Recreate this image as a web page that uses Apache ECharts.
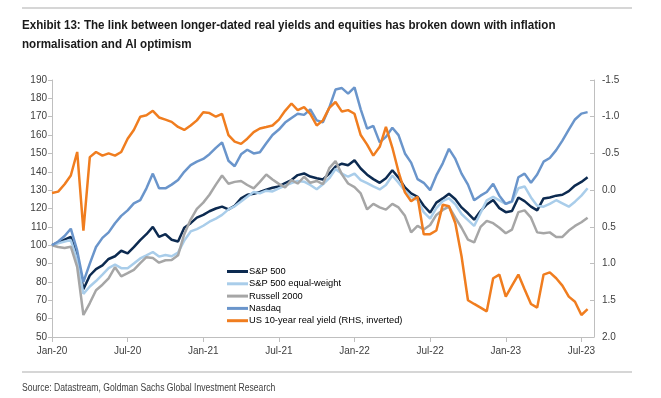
<!DOCTYPE html>
<html>
<head>
<meta charset="utf-8">
<script src="https://cdn.jsdelivr.net/npm/echarts@6/dist/echarts.min.js"></script>
<style>
  html, body { margin: 0; padding: 0; background: #fff; }
  #main { width: 661px; height: 398px; }
</style>
</head>
<body>
<div id="main"></div>
<script>
var chartDom = document.getElementById('main');
var myChart = echarts.init(chartDom);

// semi-monthly observation dates (1st and 16th), Jan 2020 .. mid Jul 2023
var dates = [];
for (var y = 2020; y <= 2023; y++) {
    for (var m = 1; m <= 12; m++) {
        if (y === 2023 && m > 7) break;
        var mm = (m < 10 ? '0' : '') + m;
        dates.push(y + '-' + mm + '-01');
        dates.push(y + '-' + mm + '-16');
    }
}

var sp500 = [
    100, 101.5, 103, 104.5, 94, 76, 83.5, 87, 89, 92.5,
    94, 97, 95.6, 99, 102.8, 106, 110, 104.5, 106, 103,
    102, 109.5, 112, 115, 116.5, 118.5, 120, 121, 119.5, 121.5,
    125.5, 127.5, 128, 129, 130.3, 131.3, 132, 133.8, 135.5, 138.2,
    139.1, 137.4, 136.5, 135.8, 139, 142.8, 144.4, 143.6, 146.3, 141.8,
    138.4, 136, 134, 136.5, 140.8, 136.8, 131.5, 128.2, 126.4, 121.5,
    117.8, 123.2, 125.5, 128, 125, 120.6, 117.4, 113.9, 118.6, 122.2,
    124.6, 120.2, 118, 118.6, 126, 124, 121, 119, 125.5, 126,
    127, 127.5, 129.5, 132.5, 134.5, 137
];

var sp500EqualWeight = [
    100, 101, 102, 102.8, 92, 73.5, 77.5, 80.5, 84, 87.5,
    89.5, 87.5, 87.5, 90, 92.8, 94.5, 96.3, 93.8, 94.7, 94,
    96, 102.5, 107.5, 108.8, 110.6, 112.8, 114.5, 116.5, 119.5, 121.2,
    123.8, 126.4, 129, 128.3, 129.7, 129.3, 131, 132.5, 133.9, 135,
    134.6, 132.8, 130.5, 133.2, 136.5, 141.5, 139, 137.3, 139, 135.5,
    133.8, 132, 130.4, 132.8, 138, 134, 129.6, 126.3, 124.6, 118,
    114.5, 120.2, 124, 125.6, 122.3, 117, 113.7, 110.5, 117.6, 124.4,
    126.3, 124.4, 122.5, 123.6, 131, 132, 126, 121.5, 121, 122.5,
    124.5, 122.8, 121, 123.7, 127, 131
];

var russell2000 = [
    100, 99, 98.5, 99.2, 88, 62, 68.5, 75.5, 78.5, 82,
    88, 83, 84.8, 86.6, 90.2, 93.5, 93, 90.5, 91.8, 92,
    94.5, 106, 114, 119.8, 123.2, 127.5, 133, 138, 133.5, 134.5,
    135, 132.8, 131, 134.5, 138.5, 135.8, 133.4, 131.5, 135.5, 133.6,
    137.3, 134, 135, 133.2, 142, 145.8, 138.6, 133.6, 131.6, 128.2,
    119.5, 122.5, 120.6, 119.4, 122.5, 120.6, 116, 107, 110.5, 108.6,
    111, 116.5, 119.2, 121, 115, 109.5, 103, 101.5, 110, 113.3,
    112, 109.5, 106.5, 108.5, 118, 119, 115, 107, 106.5, 107,
    104.5, 104.5, 108, 110.5, 112.5, 115
];

var nasdaq = [
    100, 102, 105, 109, 97, 80, 90, 99, 104, 107,
    112, 116, 119, 122.8, 124.6, 131, 139, 131, 131, 133,
    135.5, 140, 143.6, 145.5, 147, 149.6, 153, 156, 146, 143,
    149.5, 152, 150, 150.6, 155.5, 160, 163, 166.8, 169.3, 171.6,
    171, 174, 168, 167, 175, 184.8, 185.6, 182.6, 186, 174,
    163.5, 165, 156, 159, 164, 160, 150, 145, 136, 134,
    130, 138, 144.6, 152.5, 147, 139, 133, 124.5, 127, 129,
    133.5, 127, 122.5, 124, 137, 139, 134, 138.5, 145.5, 147.5,
    151.8, 157, 163, 168.5, 171.7, 172.5
];

// US 10-year real yield, %, plotted on the inverted right axis
var realYield = [
    0.04, 0.02, -0.08, -0.2, -0.52, 0.55, -0.45, -0.52, -0.47, -0.5,
    -0.47, -0.52, -0.7, -0.82, -1.0, -1.02, -1.08, -0.99, -0.96, -0.93,
    -0.86, -0.82, -0.88, -0.95, -1.06, -1.05, -1.0, -1.04, -0.75, -0.66,
    -0.63, -0.7, -0.79, -0.84, -0.86, -0.88, -0.96, -1.08, -1.18, -1.09,
    -1.13, -1.04, -0.88, -0.95, -1.12, -1.2, -1.07, -1.09, -1.04, -0.75,
    -0.62, -0.47, -0.59, -0.86, -0.58, -0.25, 0.03, 0.15, 0.09, 0.6,
    0.6, 0.55, 0.2, 0.22, 0.45, 0.9, 1.5, 1.55, 1.6, 1.65,
    1.2, 1.15, 1.45, 1.3, 1.15, 1.35, 1.55, 1.6, 1.15, 1.12,
    1.2, 1.3, 1.45, 1.52, 1.7, 1.62
];

var monthNames = ['Jan', 'Feb', 'Mar', 'Apr', 'May', 'Jun', 'Jul', 'Aug', 'Sep', 'Oct', 'Nov', 'Dec'];

// months since Jan 2020
function toMonth(d) {
    var p = d.split('-');
    return (+p[0] - 2020) * 12 + (+p[1] - 1) + (+p[2] - 1) / 30.5;
}

function pairs(values) {
    return dates.map(function (d, i) { return [toMonth(d), values[i]]; });
}

var axisGray = '#bfbfbf';
var labelColor = '#404040';
var sans = "'Liberation Sans', Arial, sans-serif";

function line(name, color, values, yAxisIndex) {
    return {
        name: name,
        type: 'line',
        yAxisIndex: yAxisIndex || 0,
        data: pairs(values),
        showSymbol: false,
        symbol: 'none',
        lineStyle: { color: color, width: 2.5 },
        itemStyle: { color: color }
    };
}

// condensed look for the title and source: regular font squeezed horizontally
function narrowText(text, x, y, size, weight, color, squeeze) {
    return {
        type: 'text',
        x: x,
        y: y,
        scaleX: squeeze,
        style: {
            text: text,
            fontFamily: sans,
            fontSize: size,
            fontWeight: weight,
            fill: color,
            verticalAlign: 'middle'
        }
    };
}

var option = {
    animation: false,
    backgroundColor: '#fff',
    graphic: [
        { type: 'line', shape: { x1: 22, y1: 8, x2: 632, y2: 8 }, style: { stroke: '#c8c8c8', lineWidth: 1.5 } },
        narrowText('Exhibit 13: The link between longer-dated real yields and equities has broken down with inflation', 22, 25, 13.5, 'bold', '#1a1a1a', 0.86),
        narrowText('normalisation and AI optimism', 22, 44, 13.5, 'bold', '#1a1a1a', 0.86),
        { type: 'line', shape: { x1: 22, y1: 372, x2: 632, y2: 372 }, style: { stroke: '#c8c8c8', lineWidth: 1.5 } },
        narrowText('Source: Datastream, Goldman Sachs Global Investment Research', 22, 388, 10, 'normal', '#404040', 0.86)
    ],
    legend: {
        orient: 'vertical',
        left: 222,
        top: 262,
        itemWidth: 21,
        itemHeight: 3,
        itemGap: 3.3,
        icon: 'rect',
        textStyle: { fontFamily: sans, fontSize: 9.3, color: '#000', padding: [0, 0, 0, -4] },
        data: ['S&P 500', 'S&P 500 equal-weight', 'Russell 2000', 'Nasdaq', 'US 10-year real yield (RHS, inverted)']
    },
    grid: { left: 52, right: 67, top: 80, bottom: 61 },
    xAxis: {
        type: 'value',
        min: 0,
        max: 43,
        interval: 6,
        splitLine: { show: false },
        axisLine: { onZero: false, lineStyle: { color: axisGray } },
        axisTick: { show: true, length: 5, lineStyle: { color: axisGray } },
        axisLabel: {
            color: labelColor,
            fontFamily: sans,
            fontSize: 10,
            margin: 9,
            showMaxLabel: false,
            formatter: function (v) {
                if (v % 6 !== 0) return '';
                var yr = 2020 + Math.floor(v / 12);
                return monthNames[v % 12] + '-' + String(yr).slice(2);
            }
        }
    },
    yAxis: [{
        type: 'value',
        min: 50,
        max: 190,
        interval: 10,
        splitLine: { show: false },
        axisLine: { show: true, lineStyle: { color: axisGray } },
        axisTick: { show: true, length: 4, lineStyle: { color: axisGray } },
        axisLabel: { color: labelColor, fontFamily: sans, fontSize: 10, margin: 5 }
    }, {
        type: 'value',
        position: 'right',
        inverse: true,
        min: -1.5,
        max: 2.0,
        interval: 0.5,
        splitLine: { show: false },
        axisLine: { show: true, lineStyle: { color: axisGray } },
        axisTick: { show: true, inside: true, length: 4, lineStyle: { color: axisGray } },
        axisLabel: {
            color: labelColor,
            fontFamily: sans,
            fontSize: 10,
            margin: 8,
            formatter: function (v) { return v.toFixed(1); }
        }
    }],
    series: [
        line('S&P 500', '#0c2a50', sp500),
        line('S&P 500 equal-weight', '#a9cdea', sp500EqualWeight),
        line('Russell 2000', '#a6a6a6', russell2000),
        line('Nasdaq', '#6a95cb', nasdaq),
        line('US 10-year real yield (RHS, inverted)', '#f07d1f', realYield, 1)
    ]
};

option && myChart.setOption(option);
</script>
</body>
</html>
